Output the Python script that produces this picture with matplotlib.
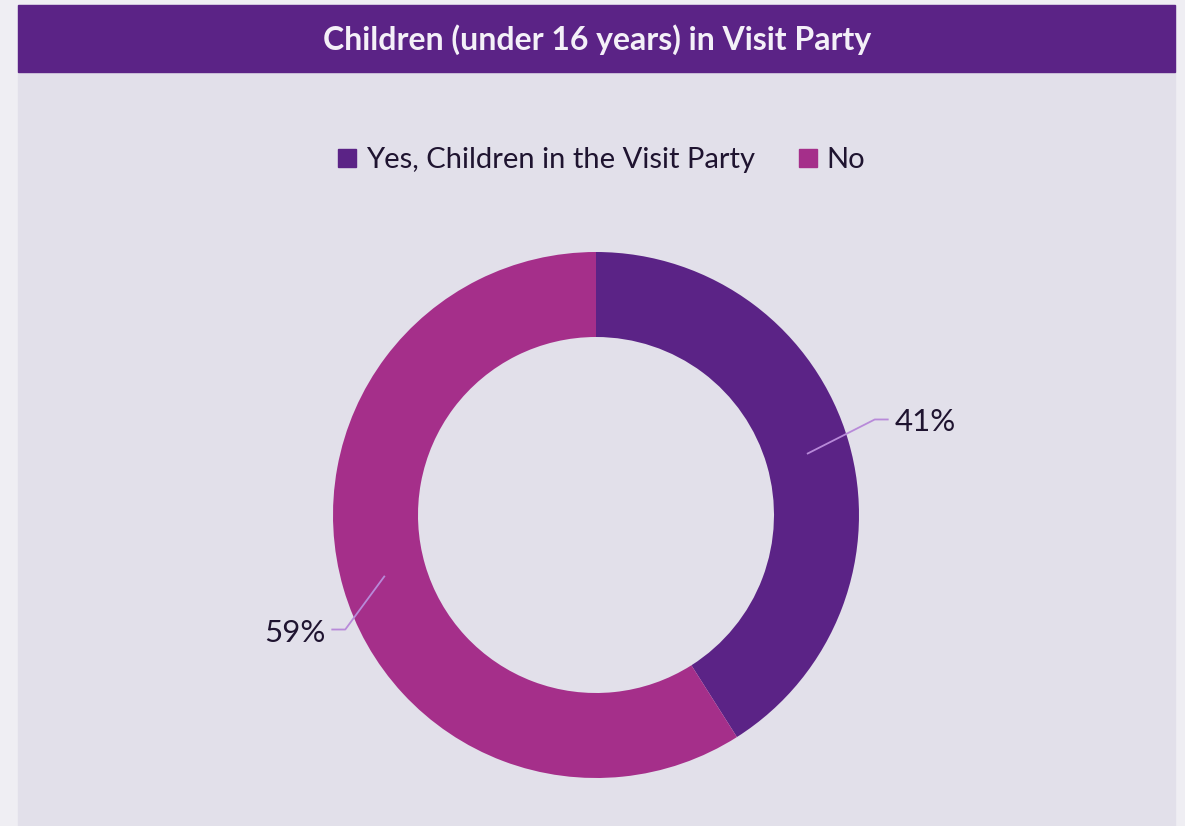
import numpy as np
import matplotlib
matplotlib.use("Agg")
import matplotlib.pyplot as plt
from matplotlib.patches import Rectangle
from matplotlib.lines import Line2D

# data
title = "Children (under 16 years) in Visit Party"
categories = ["Yes, Children in the Visit Party", "No"]
shares = [41, 59]
labels = ["41%", "59%"]

# style
colors = ["#5b2386", "#a52f8a"]
line_color = "#b88ad9"
text_color = "#1f1430"
label_offsets = [(67, 34), (-39, -53)]   # elbow of leader line, px
plt.rcParams["font.family"] = ["Lato", "DejaVu Sans"]

W, H = 1185, 826
fig = plt.figure(figsize=(W / 100, H / 100), dpi=100, facecolor="#efeef3")
ax = fig.add_axes([0, 0, 1, 1])
ax.set_xlim(0, W)
ax.set_ylim(0, H)
ax.axis("off")

# panel and title bar
ax.add_patch(Rectangle((18, 0), 1157, H - 5, color="#e2e0ea", zorder=0))
ax.add_patch(Rectangle((18, H - 72), 1157, 67, color="#5b2386", zorder=1))
ax.text(597, H - 40, title, color="#f4f0f8", fontsize=23, fontweight="bold",
        ha="center", va="center", zorder=2)

# donut
cx, cy, R, ring = 596, H - 515, 263, 85
wedges, _ = ax.pie(shares, colors=colors, startangle=90, counterclock=False,
                   center=(cx, cy), radius=R, frame=True,
                   wedgeprops=dict(width=ring, linewidth=0))
ax.set_xlim(0, W)
ax.set_ylim(0, H)
ax.set_aspect("equal")
ax.axis("off")

rm = R - ring / 2
for w, lab, (dx, dy) in zip(wedges, labels, label_offsets):
    ang = np.deg2rad((w.theta1 + w.theta2) / 2)
    x0, y0 = cx + rm * np.cos(ang), cy + rm * np.sin(ang)
    x1, y1 = x0 + dx, y0 + dy
    side = 1 if dx > 0 else -1
    x2 = x1 + side * 13
    ax.plot([x0, x1, x2], [y0, y1, y1], color=line_color, lw=1.3, zorder=3)
    ax.text(x2 + side * 7, y1 - 12, lab, color=text_color, fontsize=22.5,
            ha="left" if side > 0 else "right", va="baseline", zorder=3)

# legend
handles = [Line2D([], [], marker="s", linestyle="", markersize=12.5, color=c)
           for c in colors]
ax.legend(handles, categories, loc="center", bbox_to_anchor=(601 / W, 1 - 160 / H),
          ncol=2, frameon=False, fontsize=21, handlelength=0.7,
          handletextpad=0.3, columnspacing=1.45, labelcolor=text_color)

fig.savefig("out.png", dpi=100, facecolor=fig.get_facecolor())
